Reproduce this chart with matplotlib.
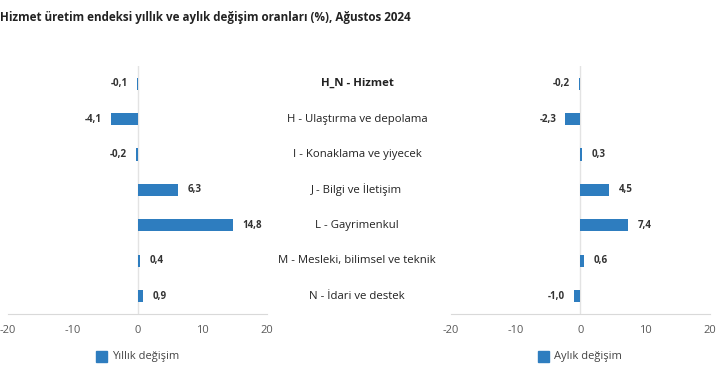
import numpy as np
import matplotlib.pyplot as plt
import matplotlib.transforms as mtransforms
from matplotlib.patches import Rectangle

# data
categories = ['H_N - Hizmet', 'H - Ulaştırma ve depolama', 'I - Konaklama ve yiyecek',
              'J - Bilgi ve İletişim', 'L - Gayrimenkul',
              'M - Mesleki, bilimsel ve teknik', 'N - İdari ve destek']
yillik = [-0.1, -4.1, -0.2, 6.3, 14.8, 0.4, 0.9]
aylik = [-0.2, -2.3, 0.3, 4.5, 7.4, 0.6, -1.0]
x_ticks = [-20, -10, 0, 10, 20]
title = 'Hizmet üretim endeksi yıllık ve aylık değişim oranları (%), Ağustos 2024'

bar_color = '#2E7DBF'
plt.rcParams['font.family'] = ['Open Sans', 'DejaVu Sans']
plt.rcParams['axes.unicode_minus'] = False

fig = plt.figure(figsize=(7.2, 3.9), dpi=100)
ax1 = fig.add_axes([0.011, 0.195, 0.36, 0.636])
ax2 = fig.add_axes([0.626, 0.195, 0.36, 0.636])

y = np.arange(len(categories))

def fmt(v):
    return f'{v:.1f}'.replace('.', ',')

for ax, vals in [(ax1, yillik), (ax2, aylik)]:
    ax.barh(y, vals, height=0.34, color=bar_color, zorder=3)
    ax.set_xlim(-20, 20)
    ax.set_ylim(len(categories) - 0.5, -0.5)
    ax.axvline(0, color='#e3e3e3', lw=1, zorder=1)
    for s in ['top', 'right', 'left']:
        ax.spines[s].set_visible(False)
    ax.spines['bottom'].set_color('#d9d9d9')
    ax.set_yticks([])
    ax.set_xticks(x_ticks)
    ax.tick_params(axis='x', length=0, pad=8, labelsize=8, labelcolor='#595959')
    ax.patch.set_alpha(0)
    for yi, v in zip(y, vals):
        off = 1.4
        if v < 0:
            ax.text(v - off, yi, fmt(v), ha='right', va='center', fontsize=7,
                    fontweight='bold', color='#333333')
        else:
            ax.text(v + off, yi, fmt(v), ha='left', va='center', fontsize=7,
                    fontweight='bold', color='#333333')

# category labels in the middle
trans = mtransforms.blended_transform_factory(fig.transFigure, ax1.transData)
for i, c in enumerate(categories):
    fig.text(357 / 720, i, c, transform=trans, ha='center', va='center',
             fontsize=8.2, color='#222222',
             fontweight='bold' if i == 0 else 'normal')

fig.text(0.0, 1 - 18 / 390, title, ha='left', va='center', fontsize=8.4,
         fontweight='bold', color='#222222')

# legends
for x0, label in [(96, 'Yıllık değişim'), (538, 'Aylık değişim')]:
    fig.patches.append(Rectangle((x0 / 720, 1 - 362 / 390), 11 / 720, 11 / 390,
                                 transform=fig.transFigure, color=bar_color))
    fig.text((x0 + 16) / 720, 1 - 356 / 390, label, ha='left', va='center',
             fontsize=8, color='#444444')

fig.savefig('out.png', dpi=100)
